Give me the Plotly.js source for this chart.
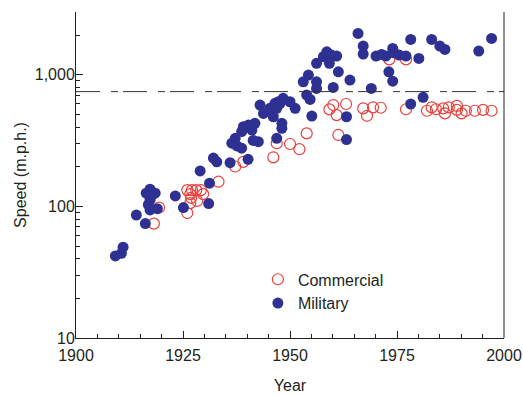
<!DOCTYPE html>
<html>
<head>
<meta charset="utf-8">
<script src="https://cdn.plot.ly/plotly-3.0.1.min.js"></script>
<style>html,body{margin:0;padding:0;background:#fff;}#chart{width:523px;height:395px;}</style>
</head>
<body>
<div id="chart"></div>
<script>
const commercialYear = [1918.2,1919.4,1926.0,1926.7,1927.1,1928.1,1929.2,1929.7,1926.9,1926.7,1928.3,1926.0,1933.3,1937.2,1939.1,1946.1,1946.9,1950.0,1952.2,1953.9,1961.3,1960.9,1960.1,1963.1,1959.2,1967.1,1968.0,1969.4,1971.2,1973.2,1977.1,1977.1,1982.0,1983.1,1984.1,1985.8,1986.2,1987.1,1989.0,1989.0,1990.1,1991.1,1993.2,1995.1,1997.1];
const commercialSpeed = [74,98,133,124,133,133,133,124,116,106,110,89,154,201,218,236,302,298,272,359,349,494,589,600,546,556,488,566,562,1309,1309,547,533,566,547,556,509,566,580,541,509,533,533,541,533];
const militaryYear = [1909.2,1910.6,1911.0,1914.1,1916.2,1916.4,1917.3,1918.5,1917.3,1916.9,1917.3,1919.0,1917.6,1923.2,1925.1,1929.0,1931.2,1931.0,1932.1,1932.9,1936.0,1940.2,1936.4,1937.2,1937.6,1938.7,1939.1,1940.3,1941.1,1938.7,1941.4,1942.6,1941.8,1943.0,1943.8,1945.3,1946.5,1946.9,1947.3,1947.7,1948.4,1950.0,1951.2,1946.9,1946.1,1948.1,1948.1,1953.9,1954.7,1955.1,1953.1,1954.3,1956.2,1956.2,1956.2,1957.8,1958.6,1959.7,1960.9,1959.2,1961.3,1960.1,1964.0,1963.2,1963.2,1965.9,1967.1,1967.1,1969.0,1970.1,1971.4,1972.4,1974.0,1974.3,1975.5,1977.1,1980.1,1973.1,1974.0,1981.1,1978.2,1978.2,1983.1,1985.0,1986.2,1994.1,1997.1];
const militarySpeed = [42,44,49,86,74,126,135,126,112,103,94,96,120,120,98,186,150,105,233,218,215,228,302,329,288,370,403,415,380,277,317,310,428,589,509,556,607,329,624,607,662,624,556,556,480,428,392,702,650,486,885,995,885,788,1222,1371,1496,1412,1387,1222,1054,802,912,480,322,2061,1652,1436,788,1387,1429,1387,1585,1468,1412,1387,1331,1054,895,674,600,1858,1858,1652,1560,1514,1888];
const soundBarrier = 745;
const xTickVals = [1900,1925,1950,1975,2000];
const xMinorVals = [1905,1910,1915,1920,1930,1935,1940,1945,1955,1960,1965,1970,1980,1985,1990,1995];
const yTickVals = [10,100,1000];
const yTickText = ['10','100','1,000'];
const yMinorVals = [20,30,40,50,60,70,80,90,200,300,400,500,600,700,800,900,2000,3000];

const FONT = '"Liberation Sans", Arial, sans-serif';
const INK = '#231f20';

const traces = [
  {x: commercialYear, y: commercialSpeed, name: 'Commercial', type: 'scatter', mode: 'markers',
   marker: {symbol: 'circle-open', size: 11, color: '#e8413c', line: {width: 1.2, color: '#e8413c'}}},
  {x: militaryYear, y: militarySpeed, name: 'Military', type: 'scatter', mode: 'markers',
   marker: {symbol: 'circle', size: 11, color: '#2e3192', line: {width: 0}}}
];

const layout = {
  width: 523, height: 395,
  margin: {l: 76, r: 19, t: 12, b: 57},
  paper_bgcolor: '#fff', plot_bgcolor: '#fff',
  font: {family: FONT, color: INK, size: 16},
  showlegend: true,
  legend: {x: 0.425, y: 0.232, xanchor: 'left', yanchor: 'top', bgcolor: 'rgba(0,0,0,0)',
           font: {family: FONT, size: 16, color: INK}, tracegroupgap: 0, itemwidth: 30},
  xaxis: {range: [1900, 2000], showgrid: false, zeroline: false, showline: true, linecolor: INK, linewidth: 1,
          ticks: 'inside', ticklen: 7, tickcolor: INK, tickvals: xTickVals, ticktext: xTickVals.map(String),
          tickfont: {size: 16, family: FONT, color: INK}, ticklabeloverflow: 'allow', ticklabelstandoff: 3,
          minor: {tickvals: xMinorVals, ticks: 'inside', ticklen: 4, tickcolor: INK, showgrid: false},
          title: {text: 'Year', font: {size: 16, family: FONT, color: INK}, standoff: 16}},
  yaxis: {type: 'log', range: [1, Math.log10(3000)], showgrid: false, zeroline: false, showline: true, linecolor: INK, linewidth: 1,
          ticks: 'inside', ticklen: 7, tickcolor: INK, tickvals: yTickVals, ticktext: yTickText,
          tickfont: {size: 16, family: FONT, color: INK}, ticklabelstandoff: -3,
          minor: {tickvals: yMinorVals, ticks: 'inside', ticklen: 4, tickcolor: INK, showgrid: false},
          title: {text: 'Speed (m.p.h.)', font: {size: 16, family: FONT, color: INK}, standoff: 4}},
  shapes: [
    {type: 'line', xref: 'paper', yref: 'paper', x0: 1, x1: 1, y0: 0, y1: 1, line: {color: INK, width: 1}},
    {type: 'line', xref: 'paper', yref: 'y', x0: 0, x1: 1, y0: soundBarrier, y1: soundBarrier,
     line: {color: '#333', width: 1, dash: '24px,11px,7px,5px'}}
  ]
};

Plotly.newPlot('chart', traces, layout, {displayModeBar: false, staticPlot: true});
</script>
</body>
</html>
